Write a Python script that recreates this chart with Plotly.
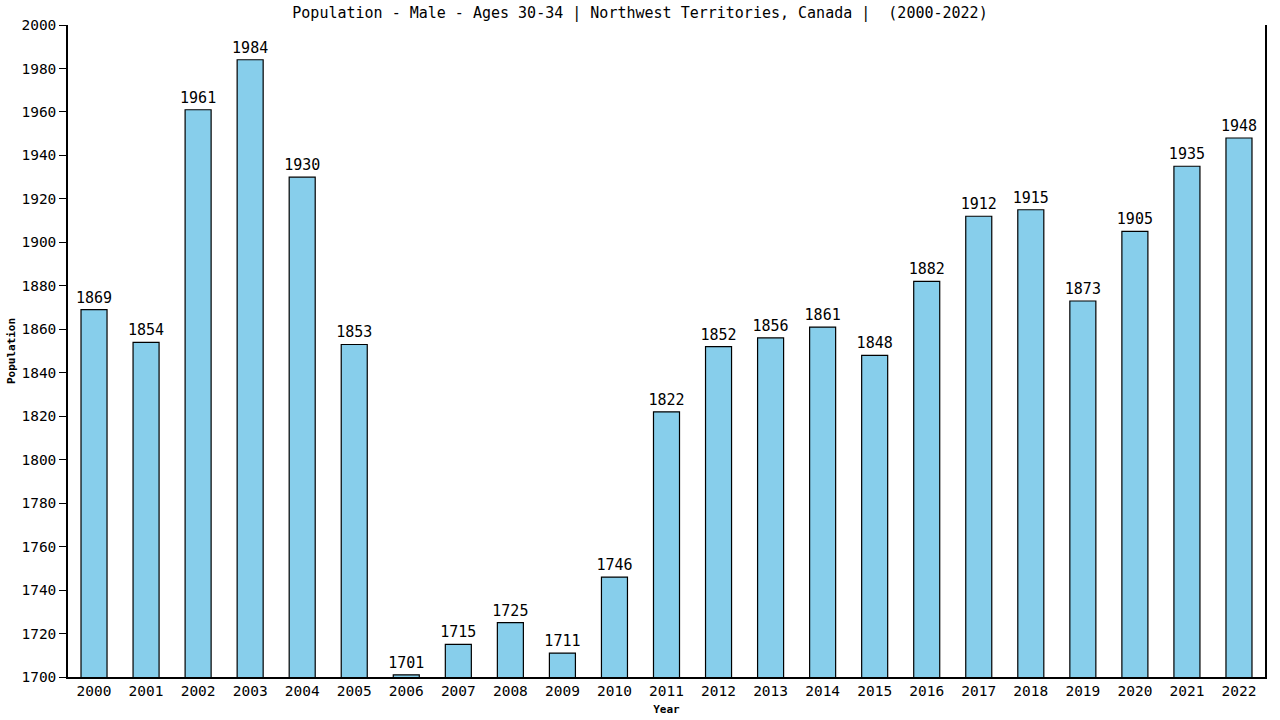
import plotly.graph_objects as go

years = [str(y) for y in range(2000, 2023)]
population = [1869, 1854, 1961, 1984, 1930, 1853, 1701, 1715, 1725, 1711, 1746,
              1822, 1852, 1856, 1861, 1848, 1882, 1912, 1915, 1873, 1905, 1935, 1948]
y_ticks = list(range(1700, 2001, 20))

FONT = "DejaVu Sans Mono"

fig = go.Figure(go.Bar(
    x=years, y=population,
    marker=dict(color="#87CEEB", line=dict(color="black", width=1.2)),
    text=[str(v) for v in population], textposition="outside",
    textfont=dict(family=FONT, size=15, color="black"),
    constraintext="none",
    cliponaxis=False, width=0.5,
))

fig.update_layout(
    width=1280, height=720,
    margin=dict(l=68, r=15, t=25, b=43, autoexpand=False),
    paper_bgcolor="white", plot_bgcolor="white",
    font=dict(family=FONT, color="black"),
    title=dict(text="Population - Male - Ages 30-34 | Northwest Territories, Canada |  (2000-2022)",
               x=0.5, xanchor="center", y=0.982, yanchor="middle",
               font=dict(family=FONT, size=15, color="black")),
    showlegend=False,
)
fig.update_xaxes(
    type="category", range=[-0.5, 22.5], automargin=False,
    showline=True, linecolor="black", linewidth=1.5,
    ticks="",
    tickfont=dict(family=FONT, size=14.5),
    title=dict(text="<b>Year</b>", font=dict(family=FONT, size=11), standoff=7),
    showgrid=False,
)
fig.update_yaxes(
    range=[1700, 2000], tickvals=y_ticks, automargin=False,
    showline=True, linecolor="black", linewidth=1.5, mirror=True,
    ticks="outside", ticklen=7, tickcolor="black",
    tickfont=dict(family=FONT, size=14.5),
    title=dict(text="<b>Population</b>", font=dict(family=FONT, size=11), standoff=4),
    showgrid=False, zeroline=False,
)

fig.write_html("out.html", config={"displayModeBar": False},
               post_script="document.body.style.margin='0';")
